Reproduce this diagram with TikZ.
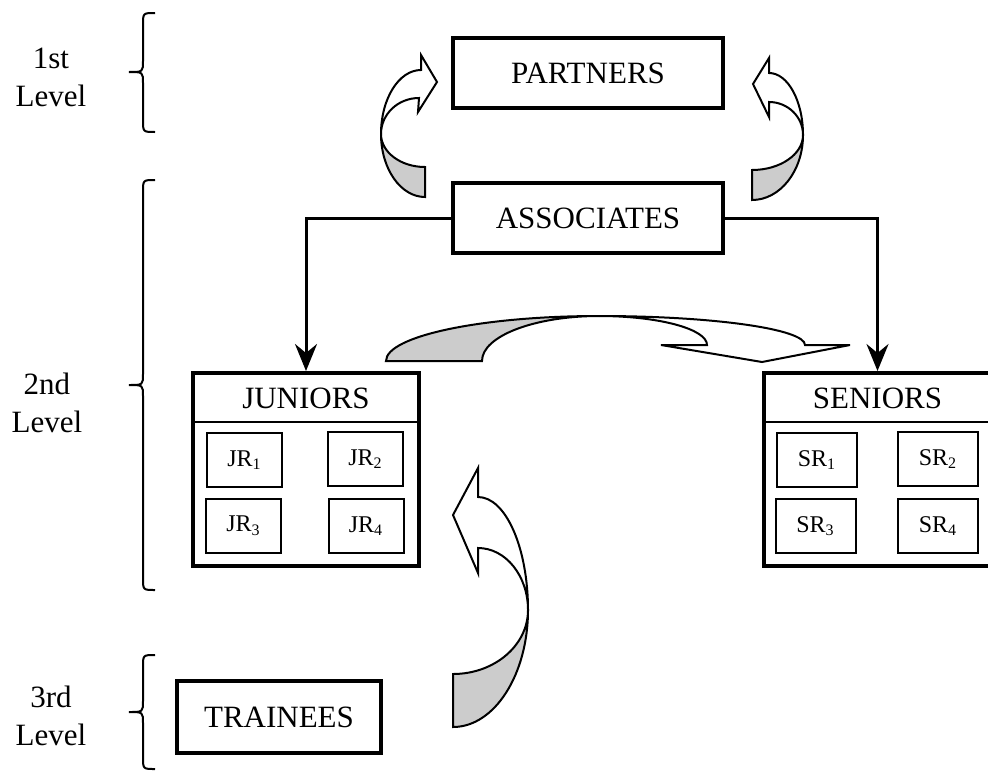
\documentclass[tikz,border=0pt]{standalone}
\usepackage{fontspec}
\setmainfont{Liberation Serif}
\usetikzlibrary{arrows.meta}
\definecolor{bandgray}{RGB}{204,204,204}
\tikzset{
  tier/.style={draw, line width=2pt, inner sep=0pt, font=\fontsize{15.5}{19}\selectfont},
  group/.style={draw, line width=2pt, inner sep=0pt},
  grouptitle/.style={inner sep=0pt, font=\fontsize{15.5}{19}\selectfont},
  subbox/.style={draw, line width=1pt, inner sep=0pt, minimum height=27pt, font=\fontsize{12}{14}\selectfont},
  levellabel/.style={align=center, inner sep=0pt, font=\fontsize{15.5}{19}\selectfont},
  conn/.style={line width=1.5pt, -{Stealth[length=13.5pt, width=11pt, inset=4.5pt]}},
  band/.style={line width=1pt, line join=miter},
  bracestyle/.style={line width=1pt},
}
% curly brace on the left margin: top y, tip y, bottom y (pixel units)
\newcommand{\levelbrace}[3]{%
  \draw[bracestyle] (155,#1) .. controls (143,#1) .. (143,{#1+12})
    -- (143,{#2-11}) .. controls (143,#2) .. (129,#2)
    .. controls (143,#2) .. (143,{#2+11})
    -- (143,{#3-12}) .. controls (143,#3) .. (155,#3);}
\begin{document}
\begin{tikzpicture}[x=0.5pt, y=-0.5pt]
\useasboundingbox (0,0) rectangle (988,771);
\clip (0,0) rectangle (988,771);

% level labels and braces
\node[levellabel] (lvlone) at (51,77) {1st\\Level};
\node[levellabel] (lvltwo) at (47,403) {2nd\\Level};
\node[levellabel] (lvlthree) at (51,716) {3rd\\Level};
\levelbrace{13}{72}{132}
\levelbrace{180}{385}{590}
\levelbrace{655}{712}{769}

% tiers
\node[tier, minimum width=135pt, minimum height=35pt] (partners) at (588,73) {PARTNERS};
\node[tier, minimum width=135pt, minimum height=35pt] (assoc) at (588,218) {ASSOCIATES};
\node[tier, minimum width=102pt, minimum height=36pt] (trainees) at (279,717) {TRAINEES};

% junior group
\node[group, minimum width=113pt, minimum height=96.5pt] (jun) at (306,469.5) {};
\coordinate (jhead) at (306,422);
\draw[line width=1pt] (jun.west |- jhead) -- (jun.east |- jhead);
\node[grouptitle] (juntitle) at (306,398) {JUNIORS};
\node[subbox, minimum width=37.5pt] (jr1) at (244.5,460) {JR\textsubscript{1}};
\node[subbox, minimum width=37.5pt] (jr2) at (365.5,459) {JR\textsubscript{2}};
\node[subbox, minimum width=37.5pt] (jr3) at (243.5,526) {JR\textsubscript{3}};
\node[subbox, minimum width=37.5pt] (jr4) at (366,526) {JR\textsubscript{4}};

% senior group
\node[group, minimum width=113.5pt, minimum height=96.5pt] (sen) at (877.5,469.5) {};
\coordinate (shead) at (877.5,422);
\draw[line width=1pt] (sen.west |- shead) -- (sen.east |- shead);
\node[grouptitle] (sentitle) at (877.5,398) {SENIORS};
\node[subbox, minimum width=40pt] (sr1) at (817,460) {SR\textsubscript{1}};
\node[subbox, minimum width=40pt] (sr2) at (938,459) {SR\textsubscript{2}};
\node[subbox, minimum width=40pt] (sr3) at (815.5,526) {SR\textsubscript{3}};
\node[subbox, minimum width=40pt] (sr4) at (938,526) {SR\textsubscript{4}};

% connectors from associates
\draw[conn] (assoc.west) -| (jun.north);
\draw[conn] (assoc.east) -| (sen.north);

% curved arrow: associates up to partners (left)
\filldraw[band, fill=bandgray] (425,197) arc[start angle=90, end angle=180, x radius=44, y radius=63]
  arc[start angle=180, end angle=90, x radius=44, y radius=33] -- cycle;
\filldraw[band, fill=white] (381,134) arc[start angle=180, end angle=270, x radius=40, y radius=64]
  -- (421,55) -- (437,82) -- (418,112) -- (419,98)
  arc[start angle=270, end angle=180, x radius=38, y radius=36] -- cycle;

% curved arrow: associates up to partners (right)
\filldraw[band, fill=bandgray] (752,200) arc[start angle=90, end angle=0, x radius=51, y radius=65]
  arc[start angle=0, end angle=90, x radius=51, y radius=35] -- cycle;
\filldraw[band, fill=white] (803,135) arc[start angle=0, end angle=-90, x radius=34, y radius=62]
  -- (769,58) -- (753,84) -- (769,117) -- (769,102)
  arc[start angle=-90, end angle=0, x radius=34, y radius=33] -- cycle;

% curved arrow: juniors over to seniors
\filldraw[band, fill=bandgray] (386,361) arc[start angle=180, end angle=270, x radius=213, y radius=45]
  arc[start angle=270, end angle=180, x radius=117, y radius=45] -- cycle;
\filldraw[band, fill=white] (599,316) arc[start angle=270, end angle=360, x radius=206, y radius=29]
  -- (850,345) -- (762,362) -- (661,345) -- (707,345)
  arc[start angle=360, end angle=270, x radius=108, y radius=29] -- cycle;

% curved arrow: trainees up to juniors
\filldraw[band, fill=bandgray] (453,727) arc[start angle=90, end angle=0, x radius=75, y radius=117]
  arc[start angle=0, end angle=90, x radius=75, y radius=64] -- cycle;
\filldraw[band, fill=white] (528,610) arc[start angle=0, end angle=-90, x radius=50, y radius=113]
  -- (478,468) -- (453,515) -- (478,573) -- (478,548)
  arc[start angle=-90, end angle=0, x radius=50, y radius=62] -- cycle;
\end{tikzpicture}
\end{document}
